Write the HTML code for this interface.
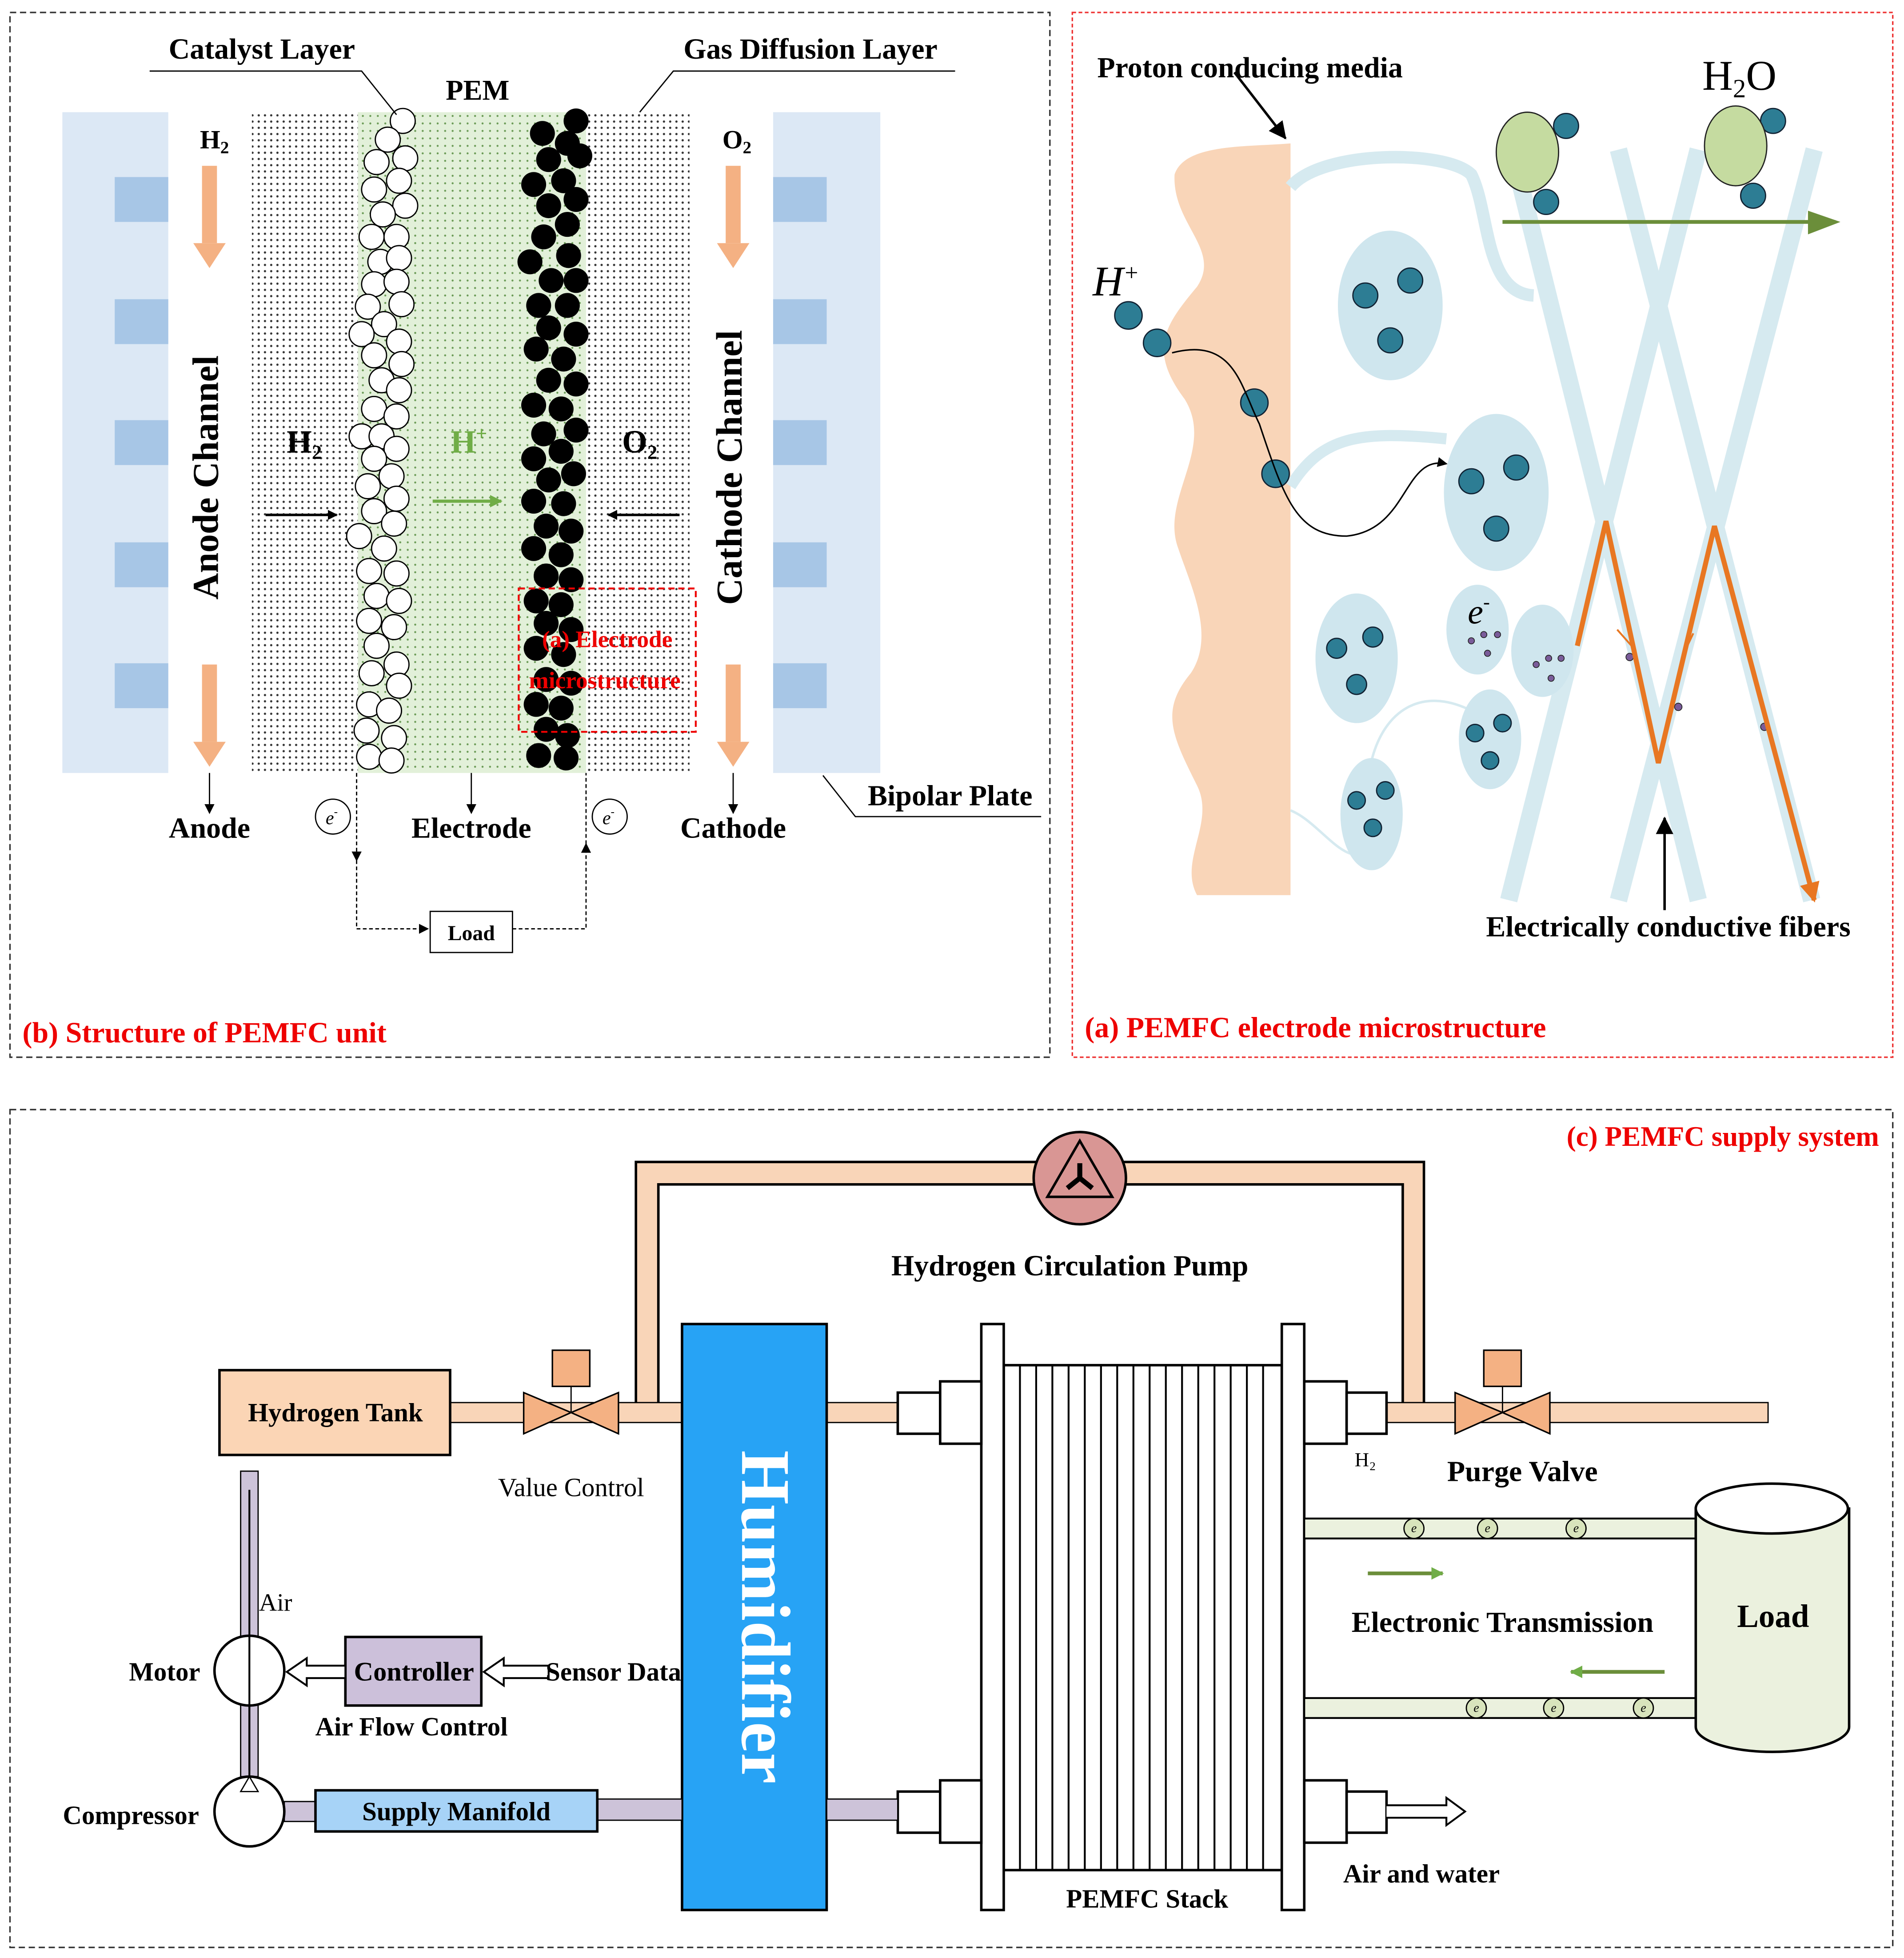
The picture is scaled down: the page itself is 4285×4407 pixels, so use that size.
<!DOCTYPE html>
<html><head><meta charset="utf-8"><style>
html,body{margin:0;padding:0;background:#fff;}
svg{display:block;}
text{font-family:"Liberation Serif",serif;}
.b{font-weight:bold;}
</style></head><body>
<svg width="4285" height="4407" viewBox="0 0 1527 1570.5" xmlns="http://www.w3.org/2000/svg">
<defs>
<pattern id="dots" width="5" height="5" patternUnits="userSpaceOnUse"><rect width="5" height="5" fill="#fff"/><circle cx="2.5" cy="2.5" r="0.9" fill="#333"/></pattern>
<pattern id="gdots" width="6" height="6" patternUnits="userSpaceOnUse"><rect width="6" height="6" fill="#e2f0d9"/><circle cx="3" cy="3" r="0.8" fill="#6a9a55"/></pattern>
<marker id="ah" markerWidth="8" markerHeight="8" refX="7" refY="4" orient="auto" markerUnits="userSpaceOnUse"><path d="M0,0 L8,4 L0,8 z" fill="#000"/></marker>
<marker id="ahg" markerWidth="10" markerHeight="10" refX="9" refY="5" orient="auto" markerUnits="userSpaceOnUse"><path d="M0,0 L10,5 L0,10 z" fill="#70ad47"/></marker>
<marker id="aho" markerWidth="16" markerHeight="16" refX="14" refY="8" orient="auto" markerUnits="userSpaceOnUse"><path d="M0,0 L16,8 L0,16 z" fill="#e87722"/></marker>
<marker id="ahl" markerWidth="14" markerHeight="14" refX="13" refY="7" orient="auto" markerUnits="userSpaceOnUse"><path d="M0,0 L14,7 L0,14 z" fill="#000"/></marker>
</defs>
<rect width="1527" height="1571" fill="#fff"/>

<rect x="8" y="10" width="834" height="838" fill="none" stroke="#333" stroke-dasharray="5,3" stroke-width="1.2"/>
<rect x="860" y="10" width="658" height="838" fill="none" stroke="#e33" stroke-dasharray="3,2" stroke-width="1.2"/>
<rect x="8" y="890" width="1510" height="672" fill="none" stroke="#333" stroke-dasharray="5,3" stroke-width="1.2"/>

<!-- ===== Panel b ===== -->
<rect x="50" y="90" width="85" height="530" fill="#dce8f5"/>
<rect x="620" y="90" width="86" height="530" fill="#dce8f5"/>
<g fill="#a7c6e6">
<rect x="92" y="142" width="43" height="36"/><rect x="92" y="240" width="43" height="36"/><rect x="92" y="337" width="43" height="36"/><rect x="92" y="435" width="43" height="36"/><rect x="92" y="532" width="43" height="36"/>
<rect x="620" y="142" width="43" height="36"/><rect x="620" y="240" width="43" height="36"/><rect x="620" y="337" width="43" height="36"/><rect x="620" y="435" width="43" height="36"/><rect x="620" y="532" width="43" height="36"/>
</g>
<rect x="135" y="90" width="67" height="530" fill="#fff"/>
<rect x="553" y="90" width="67" height="530" fill="#fff"/>
<rect x="202" y="90" width="85" height="530" fill="url(#dots)"/>
<rect x="470" y="90" width="83" height="530" fill="url(#dots)"/>
<rect x="287" y="90" width="183" height="530" fill="url(#gdots)"/>
<g fill="#fff" stroke="#000" stroke-width="1">
<circle cx="323" cy="97" r="10"/><circle cx="311" cy="112" r="10"/><circle cx="325" cy="127" r="10"/><circle cx="302" cy="130" r="10"/><circle cx="320" cy="145" r="10"/><circle cx="300" cy="152" r="10"/><circle cx="325" cy="165" r="10"/><circle cx="307" cy="172" r="10"/><circle cx="298" cy="190" r="10"/><circle cx="318" cy="190" r="10"/><circle cx="305" cy="210" r="10"/><circle cx="320" cy="207" r="10"/><circle cx="300" cy="228" r="10"/><circle cx="318" cy="226" r="10"/><circle cx="295" cy="246" r="10"/><circle cx="322" cy="244" r="10"/><circle cx="308" cy="260" r="10"/><circle cx="290" cy="268" r="10"/><circle cx="320" cy="274" r="10"/><circle cx="300" cy="285" r="10"/><circle cx="322" cy="292" r="10"/><circle cx="306" cy="305" r="10"/><circle cx="320" cy="313" r="10"/><circle cx="300" cy="328" r="10"/><circle cx="318" cy="334" r="10"/><circle cx="290" cy="350" r="10"/><circle cx="306" cy="350" r="10"/><circle cx="318" cy="360" r="10"/><circle cx="300" cy="368" r="10"/><circle cx="314" cy="382" r="10"/><circle cx="295" cy="390" r="10"/><circle cx="318" cy="400" r="10"/><circle cx="300" cy="410" r="10"/><circle cx="316" cy="420" r="10"/><circle cx="288" cy="430" r="10"/><circle cx="308" cy="440" r="10"/><circle cx="296" cy="458" r="10"/><circle cx="318" cy="460" r="10"/><circle cx="302" cy="478" r="10"/><circle cx="320" cy="482" r="10"/><circle cx="296" cy="498" r="10"/><circle cx="316" cy="503" r="10"/><circle cx="302" cy="518" r="10"/><circle cx="318" cy="533" r="10"/><circle cx="298" cy="540" r="10"/><circle cx="320" cy="550" r="10"/><circle cx="296" cy="565" r="10"/><circle cx="312" cy="570" r="10"/><circle cx="294" cy="586" r="10"/><circle cx="316" cy="592" r="10"/><circle cx="296" cy="607" r="10"/><circle cx="314" cy="610" r="10"/>
</g>
<g fill="#000">
<circle cx="462" cy="97" r="10"/><circle cx="435" cy="107" r="10"/><circle cx="455" cy="115" r="10"/><circle cx="465" cy="125" r="10"/><circle cx="440" cy="128" r="10"/><circle cx="428" cy="148" r="10"/><circle cx="452" cy="145" r="10"/><circle cx="462" cy="160" r="10"/><circle cx="440" cy="165" r="10"/><circle cx="455" cy="180" r="10"/><circle cx="436" cy="190" r="10"/><circle cx="456" cy="205" r="10"/><circle cx="425" cy="210" r="10"/><circle cx="442" cy="225" r="10"/><circle cx="462" cy="225" r="10"/><circle cx="432" cy="245" r="10"/><circle cx="455" cy="245" r="10"/><circle cx="440" cy="263" r="10"/><circle cx="462" cy="268" r="10"/><circle cx="430" cy="280" r="10"/><circle cx="452" cy="288" r="10"/><circle cx="440" cy="305" r="10"/><circle cx="462" cy="308" r="10"/><circle cx="428" cy="325" r="10"/><circle cx="450" cy="328" r="10"/><circle cx="462" cy="345" r="10"/><circle cx="436" cy="348" r="10"/><circle cx="450" cy="362" r="10"/><circle cx="428" cy="368" r="10"/><circle cx="460" cy="380" r="10"/><circle cx="440" cy="385" r="10"/><circle cx="428" cy="402" r="10"/><circle cx="452" cy="404" r="10"/><circle cx="438" cy="422" r="10"/><circle cx="458" cy="426" r="10"/><circle cx="428" cy="440" r="10"/><circle cx="450" cy="445" r="10"/><circle cx="438" cy="462" r="10"/><circle cx="458" cy="465" r="10"/><circle cx="430" cy="482" r="10"/><circle cx="450" cy="485" r="10"/><circle cx="438" cy="500" r="10"/><circle cx="458" cy="505" r="10"/><circle cx="430" cy="520" r="10"/><circle cx="452" cy="525" r="10"/><circle cx="438" cy="545" r="10"/><circle cx="458" cy="548" r="10"/><circle cx="430" cy="565" r="10"/><circle cx="450" cy="568" r="10"/><circle cx="438" cy="585" r="10"/><circle cx="455" cy="590" r="10"/><circle cx="432" cy="606" r="10"/><circle cx="454" cy="608" r="10"/>
</g>
<g fill="#f4b183">
<rect x="162" y="133" width="12" height="62"/><path d="M155,195 L181,195 L168,215 z"/>
<rect x="162" y="533" width="12" height="62"/><path d="M155,595 L181,595 L168,615 z"/>
<rect x="582" y="133" width="12" height="62"/><path d="M575,195 L601,195 L588,215 z"/>
<rect x="582" y="533" width="12" height="62"/><path d="M575,595 L601,595 L588,615 z"/>
</g>
<text class="b" x="168" y="383" font-size="29.5" text-anchor="middle" transform="rotate(-90 168 383)" dominant-baseline="middle">Anode Channel</text>
<text class="b" x="588" y="375" font-size="29.5" text-anchor="middle" transform="rotate(-90 588 375)" dominant-baseline="middle">Cathode Channel</text>
<text class="b" x="172" y="119" font-size="21" text-anchor="middle">H<tspan font-size="14" dy="4">2</tspan></text>
<text class="b" x="591" y="119" font-size="21" text-anchor="middle">O<tspan font-size="14" dy="4">2</tspan></text>
<text class="b" x="244" y="363" font-size="26" text-anchor="middle">H<tspan font-size="16" dy="5">2</tspan></text>
<text class="b" x="513" y="363" font-size="26" text-anchor="middle">O<tspan font-size="16" dy="5">2</tspan></text>
<text class="b" x="376" y="363" font-size="26" text-anchor="middle" fill="#70ad47">H<tspan font-size="16" dy="-10">+</tspan></text>
<line x1="213" y1="413" x2="270" y2="413" stroke="#000" stroke-width="2" marker-end="url(#ah)"/>
<line x1="347" y1="402" x2="402" y2="402" stroke="#70ad47" stroke-width="2.5" marker-end="url(#ahg)"/>
<line x1="545" y1="413" x2="488" y2="413" stroke="#000" stroke-width="2" marker-end="url(#ah)"/>
<rect x="416" y="472" width="142" height="115" fill="none" stroke="#e00" stroke-dasharray="5,3" stroke-width="1.5"/>
<text class="b" x="487" y="519" font-size="19" text-anchor="middle" fill="#e00">(a) Electrode</text>
<text class="b" x="485" y="552" font-size="19" text-anchor="middle" fill="#e00">microstructure</text>
<text class="b" x="210" y="47" font-size="23.5" text-anchor="middle">Catalyst Layer</text>
<polyline points="120,57 290,57 318,92" fill="none" stroke="#000" stroke-width="1"/>
<text class="b" x="650" y="47" font-size="23.5" text-anchor="middle">Gas Diffusion Layer</text>
<polyline points="766,57 540,57 513,90" fill="none" stroke="#000" stroke-width="1"/>
<text class="b" x="383" y="80" font-size="23" text-anchor="middle">PEM</text>
<g stroke="#000" stroke-width="1">
<line x1="168" y1="620" x2="168" y2="652" marker-end="url(#ah)"/>
<line x1="378" y1="620" x2="378" y2="652" marker-end="url(#ah)"/>
<line x1="588" y1="620" x2="588" y2="652" marker-end="url(#ah)"/>
</g>
<text class="b" x="168" y="672" font-size="23.5" text-anchor="middle">Anode</text>
<text class="b" x="378" y="672" font-size="23.5" text-anchor="middle">Electrode</text>
<text class="b" x="588" y="672" font-size="23.5" text-anchor="middle">Cathode</text>
<circle cx="267" cy="655" r="14" fill="#fff" stroke="#000"/><text x="266" y="661" font-size="15" text-anchor="middle" font-style="italic">e<tspan font-size="9" dy="-7">-</tspan></text>
<circle cx="489" cy="655" r="14" fill="#fff" stroke="#000"/><text x="488" y="661" font-size="15" text-anchor="middle" font-style="italic">e<tspan font-size="9" dy="-7">-</tspan></text>
<g stroke="#000" stroke-width="1" stroke-dasharray="3,2" fill="none">
<line x1="286" y1="620" x2="286" y2="690" marker-end="url(#ah)"/>
<polyline points="286,690 286,745 343,745" marker-end="url(#ah)"/>
<polyline points="411,745 470,745 470,677" marker-end="url(#ah)"/>
<line x1="470" y1="677" x2="470" y2="620"/>
</g>
<rect x="345" y="731" width="66" height="33" fill="#fff" stroke="#000"/>
<text class="b" x="378" y="754" font-size="17" text-anchor="middle">Load</text>
<polyline points="660,622 686,655 835,655" fill="none" stroke="#000" stroke-width="1"/>
<text class="b" x="762" y="646" font-size="23.5" text-anchor="middle">Bipolar Plate</text>
<text class="b" x="18" y="836" font-size="23.5" fill="#e00">(b) Structure of PEMFC unit</text>

<!-- ===== Panel a ===== -->
<path d="M1035,115 L1035,718 L960,718 C945,690 975,660 960,630 C940,590 930,570 955,540 C975,510 955,470 945,440 C930,400 975,360 950,320 C920,280 935,260 960,230 C980,200 940,180 942,140 C950,115 1000,118 1035,115 z" fill="#f9d5b8"/>
<g fill="none" stroke="#d6eaf0" stroke-width="14" stroke-linecap="butt">
<path d="M1035,150 C1060,120 1160,120 1180,140 C1195,170 1190,235 1230,237" stroke-width="10"/>
<line x1="1213" y1="122" x2="1362" y2="722"/>
<line x1="1298" y1="120" x2="1453" y2="722"/>
<line x1="1455" y1="120" x2="1298" y2="722"/>
<line x1="1362" y1="120" x2="1210" y2="722"/>
<path d="M1035,390 C1060,350 1090,345 1160,352" stroke-width="9"/>
</g>
<g fill="none" stroke="#d6eaf0" stroke-width="2">
<path d="M1035,650 C1060,660 1080,700 1100,680"/>
<path d="M1100,610 C1110,570 1140,550 1180,570"/>
</g>
<g fill="#cfe6ee">
<ellipse cx="1115" cy="245" rx="42" ry="60"/><ellipse cx="1200" cy="395" rx="42" ry="63"/><ellipse cx="1088" cy="528" rx="33" ry="52"/><ellipse cx="1185" cy="505" rx="25" ry="36"/><ellipse cx="1237" cy="522" rx="25" ry="37"/><ellipse cx="1195" cy="593" rx="25" ry="40"/><ellipse cx="1100" cy="653" rx="25" ry="45"/>
</g>
<g fill="#2d7d94" stroke="#123" stroke-width="1">
<circle cx="1095" cy="237" r="10"/><circle cx="1131" cy="225" r="10"/><circle cx="1115" cy="273" r="10"/>
<circle cx="1180" cy="386" r="10"/><circle cx="1216" cy="375" r="10"/><circle cx="1200" cy="424" r="10"/>
<circle cx="1072" cy="520" r="8"/><circle cx="1101" cy="511" r="8"/><circle cx="1088" cy="549" r="8"/>
<circle cx="1183" cy="588" r="7"/><circle cx="1205" cy="580" r="7"/><circle cx="1195" cy="610" r="7"/>
<circle cx="1088" cy="642" r="7"/><circle cx="1111" cy="634" r="7"/><circle cx="1101" cy="664" r="7"/>
<circle cx="905" cy="253" r="11"/><circle cx="928" cy="275" r="11"/><circle cx="1006" cy="323" r="11"/><circle cx="1023" cy="380" r="11"/>
<circle cx="1256" cy="101" r="10"/><circle cx="1240" cy="162" r="10"/><circle cx="1422" cy="97" r="10"/><circle cx="1406" cy="157" r="10"/>
</g>
<g fill="#7a5c9a" stroke="#222" stroke-width="0.6">
<circle cx="1180" cy="514" r="2.5"/><circle cx="1190" cy="509" r="2.5"/><circle cx="1201" cy="509" r="2.5"/><circle cx="1193" cy="524" r="2.5"/>
<circle cx="1232" cy="533" r="2.5"/><circle cx="1242" cy="528" r="2.5"/><circle cx="1252" cy="528" r="2.5"/><circle cx="1244" cy="544" r="2.5"/>
<circle cx="1307" cy="527" r="3"/><circle cx="1346" cy="567" r="3"/><circle cx="1415" cy="583" r="3"/>
</g>
<text x="1186" y="500" font-size="28" text-anchor="middle" font-style="italic">e<tspan font-size="16" dy="-12">-</tspan></text>
<text x="895" y="237" font-size="34" text-anchor="middle" font-style="italic">H<tspan font-size="19" dy="-12">+</tspan></text>
<path d="M940,283 C990,270 995,310 1010,340 C1030,400 1040,430 1080,430 C1130,425 1125,365 1160,372" fill="none" stroke="#000" stroke-width="1.2" marker-end="url(#ah)"/>
<ellipse cx="1225" cy="122" rx="25" ry="32" fill="#c5dba0" stroke="#222"/>
<ellipse cx="1392" cy="117" rx="25" ry="32" fill="#c5dba0" stroke="#222"/>
<line x1="1205" y1="178" x2="1472" y2="178" stroke="#6b8e3a" stroke-width="3"/><path d="M1450,169 L1476,178 L1450,188 z" fill="#6b8e3a"/>
<text x="1395" y="72" font-size="34" text-anchor="middle">H<tspan font-size="21" dy="6">2</tspan><tspan dy="-6">O</tspan></text>
<polyline points="1265,518 1288,418 1330,612 1375,422 1455,722" fill="none" stroke="#e87722" stroke-width="4" marker-end="url(#aho)"/>
<line x1="1297" y1="505" x2="1312" y2="522" stroke="#e87722" stroke-width="1.5"/>
<line x1="1350" y1="525" x2="1358" y2="508" stroke="#e87722" stroke-width="1.5"/>
<line x1="1335" y1="730" x2="1335" y2="656" stroke="#000" stroke-width="2" marker-end="url(#ahl)"/>
<text class="b" x="1338" y="751" font-size="23.5" text-anchor="middle">Electrically conductive fibers</text>
<text class="b" x="880" y="62" font-size="23.5">Proton conducing media</text>
<line x1="990" y1="58" x2="1031" y2="111" stroke="#000" stroke-width="2" marker-end="url(#ahl)"/>
<text class="b" x="870" y="832" font-size="23.5" fill="#e00">(a) PEMFC electrode microstructure</text>

<!-- ===== Panel c ===== -->
<text class="b" x="1507" y="919" font-size="22.5" text-anchor="end" fill="#e00">(c) PEMFC supply system</text>
<path d="M510,1133 L510,932 L1142,932 L1142,1133 L1125,1133 L1125,950 L528,950 L528,1133 z" fill="#f9d5b8" stroke="#000" stroke-width="2"/>
<circle cx="866" cy="945" r="37" fill="#d99694" stroke="#000" stroke-width="2"/>
<path d="M866,915 L892,960 L840,960 z" fill="none" stroke="#000" stroke-width="2"/>
<path d="M866,945 L866,933 M866,945 L856,953 M866,945 L876,953" stroke="#000" stroke-width="4"/>
<text class="b" x="858" y="1023" font-size="23.5" text-anchor="middle">Hydrogen Circulation Pump</text>
<rect x="361" y="1125" width="186" height="16" fill="#f9d5b8" stroke="#000"/>
<rect x="663" y="1125" width="57" height="16" fill="#f9d5b8" stroke="#000"/>
<rect x="1112" y="1125" width="306" height="16" fill="#f9d5b8" stroke="#000"/>
<rect x="176" y="1099" width="185" height="68" fill="#fbd5b5" stroke="#000" stroke-width="2"/>
<text class="b" x="269" y="1140" font-size="21" text-anchor="middle">Hydrogen Tank</text>
<g fill="#f4b183" stroke="#000" stroke-width="1.2">
<path d="M420,1117 L458,1133 L420,1150 z"/><path d="M496,1117 L458,1133 L496,1150 z"/>
<rect x="443" y="1083" width="30" height="29"/>
<path d="M1167,1117 L1205,1133 L1167,1150 z"/><path d="M1243,1117 L1205,1133 L1243,1150 z"/>
<rect x="1190" y="1083" width="30" height="29"/>
</g>
<line x1="458" y1="1112" x2="458" y2="1133" stroke="#000"/><line x1="1205" y1="1112" x2="1205" y2="1133" stroke="#000"/>
<text x="458" y="1200" font-size="21" text-anchor="middle">Value Control</text>
<text class="b" x="1221" y="1188" font-size="23.5" text-anchor="middle">Purge Valve</text>
<text x="1095" y="1176" font-size="16" text-anchor="middle">H₂</text>
<rect x="547" y="1062" width="116" height="470" fill="#27a3f5" stroke="#000" stroke-width="2"/>
<text class="b" x="608" y="1297" font-size="56" text-anchor="middle" fill="#fff" transform="rotate(90 608 1297)" dominant-baseline="middle">Humidifier</text>
<rect x="805" y="1095" width="223" height="405" fill="#fff" stroke="#000" stroke-width="2"/>
<g stroke="#000" stroke-width="1.5">
<line x1="818" y1="1095" x2="818" y2="1500"/><line x1="831" y1="1095" x2="831" y2="1500"/><line x1="844" y1="1095" x2="844" y2="1500"/><line x1="857" y1="1095" x2="857" y2="1500"/><line x1="870" y1="1095" x2="870" y2="1500"/><line x1="883" y1="1095" x2="883" y2="1500"/><line x1="896" y1="1095" x2="896" y2="1500"/><line x1="909" y1="1095" x2="909" y2="1500"/><line x1="922" y1="1095" x2="922" y2="1500"/><line x1="935" y1="1095" x2="935" y2="1500"/><line x1="948" y1="1095" x2="948" y2="1500"/><line x1="961" y1="1095" x2="961" y2="1500"/><line x1="974" y1="1095" x2="974" y2="1500"/><line x1="987" y1="1095" x2="987" y2="1500"/><line x1="1000" y1="1095" x2="1000" y2="1500"/><line x1="1013" y1="1095" x2="1013" y2="1500"/>
</g>
<g fill="#fff" stroke="#000" stroke-width="2">
<rect x="787" y="1062" width="18" height="470"/><rect x="1028" y="1062" width="18" height="470"/>
<rect x="720" y="1117" width="34" height="33"/><rect x="754" y="1108" width="33" height="50"/>
<rect x="1046" y="1108" width="34" height="50"/><rect x="1080" y="1117" width="32" height="33"/>
<rect x="720" y="1437" width="34" height="33"/><rect x="754" y="1428" width="33" height="50"/>
<rect x="1046" y="1428" width="34" height="50"/><rect x="1080" y="1437" width="32" height="33"/>
</g>
<text class="b" x="920" y="1530" font-size="21" text-anchor="middle">PEMFC Stack</text>
<rect x="1046" y="1218" width="314" height="16" fill="#ebf1de" stroke="#000" stroke-width="1.5"/>
<rect x="1046" y="1362" width="314" height="16" fill="#ebf1de" stroke="#000" stroke-width="1.5"/>
<g fill="#d8e4bc" stroke="#000" stroke-width="1">
<circle cx="1134" cy="1226" r="8"/><circle cx="1193" cy="1226" r="8"/><circle cx="1264" cy="1226" r="8"/>
<circle cx="1184" cy="1370" r="8"/><circle cx="1246" cy="1370" r="8"/><circle cx="1318" cy="1370" r="8"/>
</g>
<g font-size="10" text-anchor="middle" font-style="italic">
<text x="1134" y="1229">e</text><text x="1193" y="1229">e</text><text x="1264" y="1229">e</text>
<text x="1184" y="1373">e</text><text x="1246" y="1373">e</text><text x="1318" y="1373">e</text>
</g>
<line x1="1097" y1="1262" x2="1157" y2="1262" stroke="#6b8e3a" stroke-width="3" marker-end="url(#ahg)"/>
<line x1="1335" y1="1341" x2="1260" y2="1341" stroke="#6b8e3a" stroke-width="3" marker-end="url(#ahg)"/>
<text class="b" x="1205" y="1309" font-size="23.5" text-anchor="middle">Electronic Transmission</text>
<path d="M1360,1210 L1360,1385 A61,20 0 0 0 1483,1385 L1483,1210 z" fill="#ebf1de" stroke="#000" stroke-width="2"/>
<ellipse cx="1421" cy="1210" rx="61" ry="20" fill="#fff" stroke="#000" stroke-width="2"/>
<text class="b" x="1422" y="1305" font-size="26" text-anchor="middle">Load</text>
<rect x="663" y="1443" width="57" height="17" fill="#cdc3d9" stroke="#000"/>
<rect x="479" y="1443" width="68" height="17" fill="#cdc3d9" stroke="#000"/>
<rect x="228" y="1445" width="25" height="16" fill="#cdc3d9" stroke="#000"/>
<rect x="193" y="1180" width="14" height="245" fill="#cdc3d9" stroke="#000"/>
<line x1="200" y1="1195" x2="200" y2="1420" stroke="#000" stroke-width="1.5"/>
<rect x="253" y="1436" width="226" height="33" fill="#a7d3f7" stroke="#000" stroke-width="2"/>
<text class="b" x="366" y="1460" font-size="21" text-anchor="middle">Supply Manifold</text>
<circle cx="200" cy="1340" r="28" fill="#fff" stroke="#000" stroke-width="2"/>
<circle cx="200" cy="1453" r="28" fill="#fff" stroke="#000" stroke-width="2"/>
<line x1="200" y1="1312" x2="200" y2="1368" stroke="#000" stroke-width="1.5"/>
<path d="M193,1437 L200,1425 L207,1437 z" fill="#fff" stroke="#000"/>
<line x1="200" y1="1368" x2="200" y2="1425" stroke="#000" stroke-width="1.5"/>
<text x="221" y="1292" font-size="20" text-anchor="middle">Air</text>
<rect x="277" y="1313" width="109" height="55" fill="#ccc0da" stroke="#000" stroke-width="2"/>
<text class="b" x="332" y="1348" font-size="21.5" text-anchor="middle">Controller</text>
<path d="M277,1336 L246,1336 L246,1330 L230,1341 L246,1352 L246,1346 L277,1346 z" fill="#fff" stroke="#000" stroke-width="1.5"/>
<path d="M440,1336 L404,1336 L404,1330 L388,1341 L404,1352 L404,1346 L440,1346 z" fill="#fff" stroke="#000" stroke-width="1.5"/>
<text class="b" x="132" y="1348" font-size="21" text-anchor="middle">Motor</text>
<text class="b" x="105" y="1463" font-size="21" text-anchor="middle">Compressor</text>
<text class="b" x="492" y="1348" font-size="21" text-anchor="middle">Sensor Data</text>
<text class="b" x="330" y="1392" font-size="21" text-anchor="middle">Air Flow Control</text>
<path d="M1112,1448 L1160,1448 L1160,1442 L1175,1453 L1160,1464 L1160,1458 L1112,1458" fill="#fff" stroke="#000" stroke-width="1.5"/>
<text class="b" x="1140" y="1510" font-size="21" text-anchor="middle">Air and water</text>
</svg>
</body></html>
